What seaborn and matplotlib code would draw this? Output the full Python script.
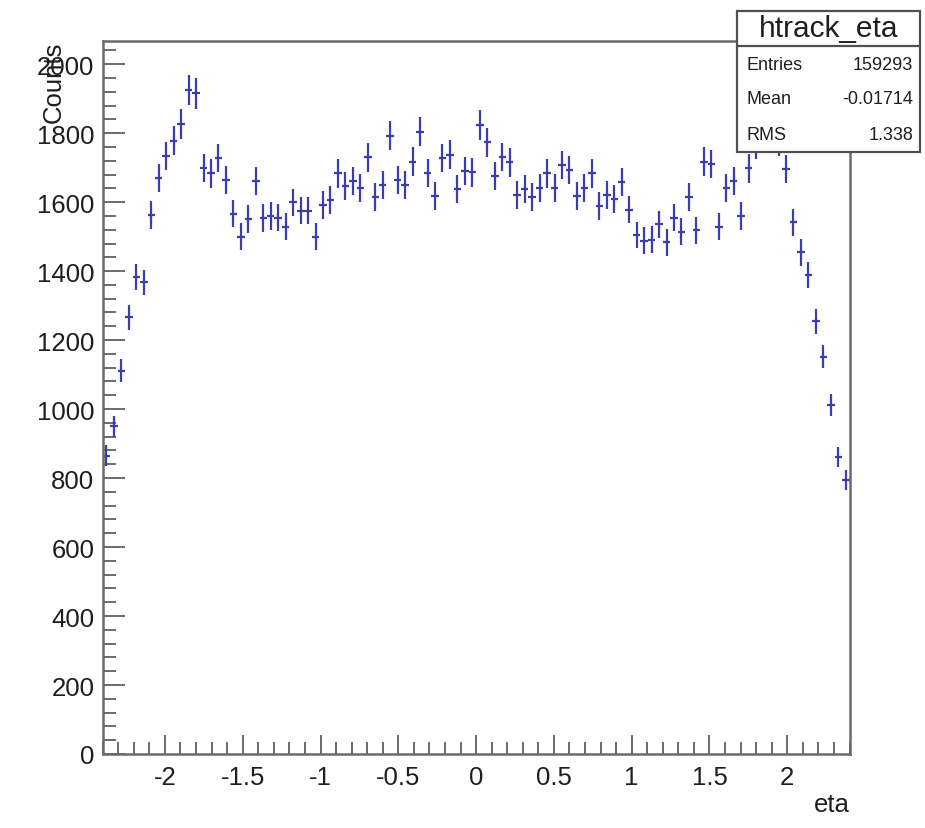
import numpy as np
import pandas as pd
import matplotlib
matplotlib.use("Agg")
import matplotlib.pyplot as plt
from matplotlib.patches import Rectangle
from matplotlib.lines import Line2D
from matplotlib.ticker import MultipleLocator, FixedLocator
import seaborn as sns

# Histogram definition: 100 bins of track pseudorapidity
eta_min, eta_max, n_bins = -2.4, 2.4, 100

# Bin contents (counts per bin, left to right)
counts = [
    865, 950, 1111, 1266, 1382, 1367, 1563, 1669, 1734, 1778,
    1826, 1926, 1915, 1699, 1683, 1728, 1663, 1567, 1500, 1551,
    1660, 1554, 1560, 1555, 1528, 1599, 1575, 1575, 1500, 1592,
    1606, 1683, 1647, 1660, 1641, 1730, 1614, 1650, 1792, 1664,
    1650, 1717, 1804, 1684, 1618, 1728, 1738, 1638, 1691, 1686,
    1823, 1773, 1676, 1731, 1715, 1621, 1638, 1614, 1641, 1683,
    1641, 1707, 1693, 1618, 1641, 1683, 1589, 1620, 1609, 1659,
    1578, 1505, 1488, 1491, 1536, 1483, 1555, 1514, 1614, 1519,
    1717, 1710, 1529, 1641, 1662, 1560, 1698, 1767, 1880, 1860,
    1775, 1696, 1541, 1454, 1389, 1254, 1152, 1012, 860, 795,
]

x_ticks = [-2, -1.5, -1, -0.5, 0, 0.5, 1, 1.5, 2]
x_tick_labels = ["-2", "-1.5", "-1", "-0.5", "0", "0.5", "1", "1.5", "2"]
y_ticks = [0, 200, 400, 600, 800, 1000, 1200, 1400, 1600, 1800, 2000]
y_max = 2068

hist_name = "htrack_eta"
stat_names = ["Entries", "Mean", "RMS"]
stat_values = ["159293", "-0.01714", "1.338"]
x_title = "eta"
y_title = "Counts"

sns.set_theme(style="ticks")
plt.rcParams["font.family"] = ["Liberation Sans", "DejaVu Sans"]

edges = np.linspace(eta_min, eta_max, n_bins + 1)
df = pd.DataFrame({
    "eta": 0.5 * (edges[:-1] + edges[1:]),
    "counts": counts,
})
df["err"] = np.sqrt(df["counts"])
half_width = 0.5 * (eta_max - eta_min) / n_bins

W, H = 925, 829
fig = plt.figure(figsize=(W / 100, H / 100), dpi=100, facecolor="white")
ax = fig.add_axes([102.7 / W, 1 - 755 / H, (849.5 - 102.7) / W, (755 - 41.7) / H])
ax.set_facecolor("white")

marker_color = "#3c3cac"
ax.errorbar(df["eta"], df["counts"], xerr=half_width, yerr=df["err"],
            fmt="none", ecolor=marker_color, elinewidth=1.6, capsize=0)

ax.set_xlim(eta_min, eta_max)
ax.set_ylim(0, y_max)

frame_color = "#6a6a6a"
text_color = "#1e1e1e"
for s in ax.spines.values():
    s.set_color(frame_color)
    s.set_linewidth(1.8)

ax.xaxis.set_major_locator(FixedLocator(x_ticks))
ax.set_xticklabels(x_tick_labels)
ax.xaxis.set_minor_locator(MultipleLocator(0.1))
ax.yaxis.set_major_locator(FixedLocator(y_ticks))
ax.yaxis.set_minor_locator(MultipleLocator(40))

ax.tick_params(axis="x", which="major", direction="in", length=14, width=1.4,
               color=frame_color, labelsize=18.5, pad=8, top=False, labelcolor=text_color)
ax.tick_params(axis="x", which="minor", direction="in", length=8.5, width=1.4,
               color=frame_color, top=False)
ax.tick_params(axis="y", which="major", direction="in", length=16, width=1.4,
               color=frame_color, labelsize=18.5, pad=6, right=False, labelcolor=text_color)
ax.tick_params(axis="y", which="minor", direction="in", length=9, width=1.4,
               color=frame_color, right=False)

# Axis titles placed at the axis ends
ax.text(1.0, -0.053, x_title, transform=ax.transAxes, ha="right", va="top",
        fontsize=18.5, color=text_color)
ax.text(-0.065, 1.0, y_title, transform=ax.transAxes, ha="center", va="top",
        rotation=90, fontsize=18.5, color=text_color)

# Statistics box
def fx(px):
    return px / W


def fy(py):
    return 1 - py / H


box_l, box_r, box_t, box_m, box_b = 736.7, 920, 11.7, 46.7, 153.3
fig.add_artist(Rectangle((fx(box_l), fy(box_b)), fx(box_r) - fx(box_l), fy(box_t) - fy(box_b),
                         transform=fig.transFigure, facecolor="white",
                         edgecolor="#505050", linewidth=1.6, zorder=10))
fig.add_artist(Line2D([fx(box_l), fx(box_r)], [fy(box_m), fy(box_m)],
                      transform=fig.transFigure, color="#505050", linewidth=1.6, zorder=11))
fig.text(fx(0.5 * (box_l + box_r)), fy(29), hist_name, ha="center", va="center",
         fontsize=21.5, color=text_color, zorder=12)
for i, (name, val) in enumerate(zip(stat_names, stat_values)):
    yy = fy(65 + 35 * i)
    fig.text(fx(746), yy, name, ha="left", va="center", fontsize=13,
             color=text_color, zorder=12)
    fig.text(fx(913), yy, val, ha="right", va="center", fontsize=13,
             color=text_color, zorder=12)

fig.savefig("out.png", dpi=100, facecolor="white")
